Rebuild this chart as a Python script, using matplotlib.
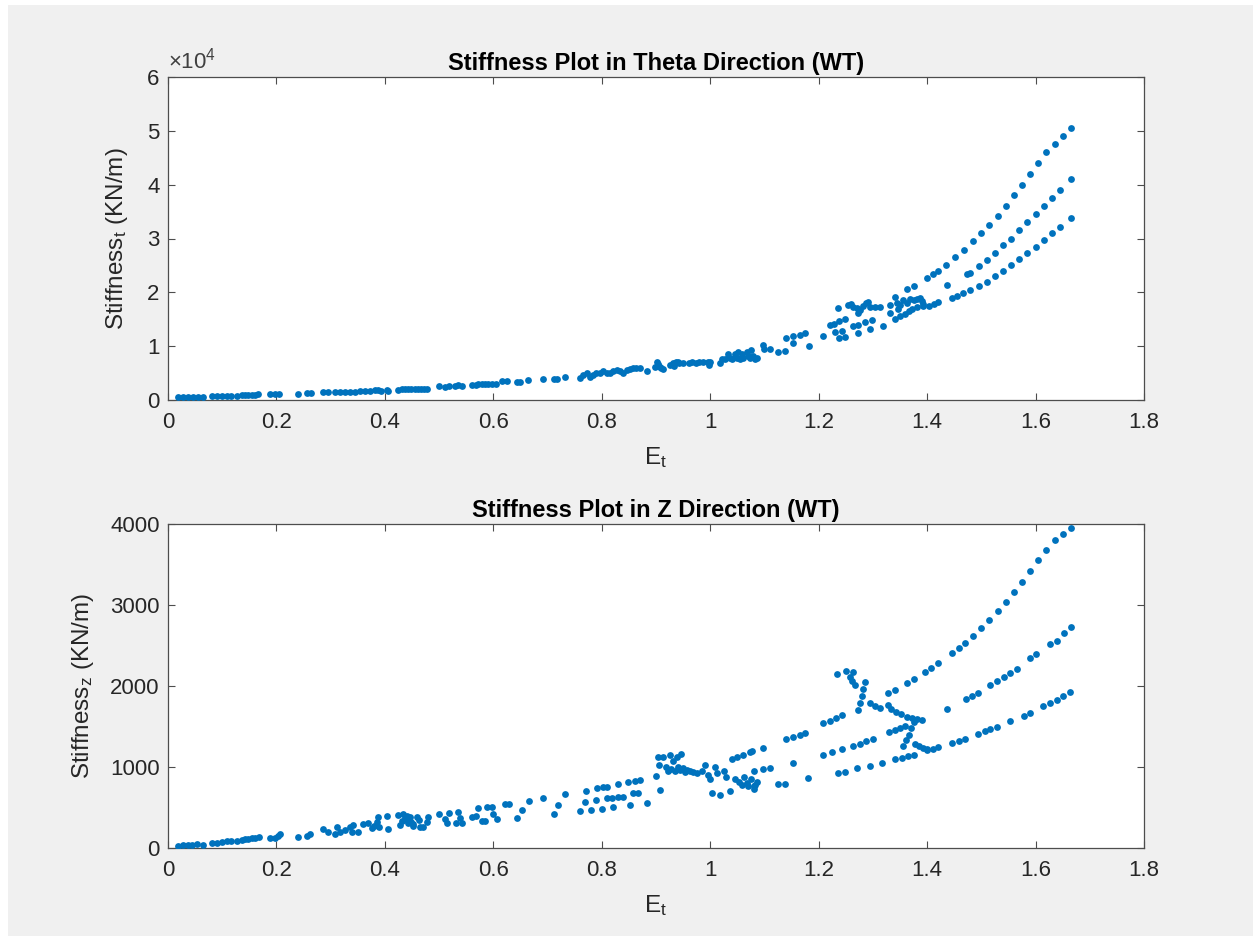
import matplotlib
matplotlib.use("Agg")
import matplotlib.pyplot as plt
from matplotlib.patches import Rectangle

plt.rcParams["font.family"] = ["Liberation Sans", "DejaVu Sans"]
plt.rcParams["mathtext.fontset"] = "custom"
plt.rcParams["mathtext.rm"] = "Liberation Sans"
plt.rcParams["mathtext.it"] = "Liberation Sans:italic"
plt.rcParams["mathtext.bf"] = "Liberation Sans:bold"

# ---- stiffness in theta direction (KN/m) vs E_t ----
e_theta = [
    0.019, 0.028, 0.037, 0.046, 0.055, 0.065, 0.081, 0.090, 0.099, 0.108, 0.117, 0.127,
    0.136, 0.142, 0.148, 0.154, 0.160, 0.166, 0.188, 0.197, 0.205, 0.240, 0.256, 0.263,
    0.285, 0.296, 0.308, 0.317, 0.326, 0.336, 0.345, 0.354, 0.363, 0.372, 0.381, 0.388,
    0.392, 0.403, 0.405, 0.425, 0.431, 0.437, 0.443, 0.449, 0.455, 0.461, 0.467, 0.473,
    0.477, 0.500, 0.511, 0.519, 0.530, 0.535, 0.542, 0.560, 0.568, 0.572, 0.579, 0.585,
    0.591, 0.597, 0.604, 0.616, 0.625, 0.643, 0.649, 0.664, 0.692, 0.711, 0.717, 0.732,
    0.760, 0.766, 0.772, 0.778, 0.784, 0.790, 0.797, 0.803, 0.809, 0.815, 0.821, 0.828,
    0.834, 0.840, 0.846, 0.852, 0.858, 0.864, 0.870, 0.883, 0.901, 0.904, 0.898, 0.904,
    0.907, 0.913, 0.910, 0.925, 0.931, 0.934, 0.937, 0.940, 0.943, 0.949, 0.961, 0.967,
    0.973, 0.979, 0.986, 0.995, 0.997, 0.999, 1.018, 1.021, 1.027, 1.033, 1.037, 1.040,
    1.046, 1.049, 1.052, 1.055, 1.058, 1.061, 1.067, 1.070, 1.073, 1.076, 1.079, 1.083,
    1.086, 1.097, 1.100, 1.110, 1.125, 1.138, 1.140, 1.153, 1.153, 1.165, 1.175, 1.183,
    1.208, 1.220, 1.229, 1.238, 1.249, 1.230, 1.243, 1.237, 1.249, 1.236, 1.254, 1.260,
    1.263, 1.270, 1.273, 1.277, 1.282, 1.287, 1.291, 1.295, 1.304, 1.313, 1.264, 1.273,
    1.286, 1.298, 1.273, 1.295, 1.319, 1.332, 1.332, 1.341, 1.344, 1.347, 1.350, 1.356,
    1.363, 1.369, 1.375, 1.381, 1.387, 1.390, 1.393, 1.341, 1.350, 1.360, 1.366, 1.372,
    1.381, 1.393, 1.403, 1.412, 1.421, 1.363, 1.375, 1.400, 1.411, 1.421, 1.446, 1.456,
    1.467, 1.473,
    1.435, 1.452, 1.468, 1.485, 1.500, 1.515, 1.530, 1.545, 1.560, 1.575, 1.590, 1.605,
    1.620, 1.635, 1.650, 1.665,
    1.436, 1.480, 1.495, 1.510, 1.525, 1.540, 1.555, 1.570, 1.585, 1.600, 1.615, 1.630,
    1.645, 1.665,
    1.480, 1.495, 1.510, 1.525, 1.540, 1.555, 1.570, 1.585, 1.600, 1.615, 1.630, 1.645,
    1.665,
]
k_theta = [
    500, 520, 550, 560, 600, 560, 700, 720, 740, 760, 780, 820,
    850, 870, 900, 930, 980, 1050, 1030, 1060, 1100, 1150, 1250, 1300,
    1500, 1450, 1400, 1450, 1480, 1550, 1560, 1620, 1650, 1720, 1780, 1850,
    1700, 1900, 1650, 1950, 2000, 2050, 2000, 2000, 2000, 2050, 2030, 2080,
    2100, 2600, 2500, 2650, 2600, 2700, 2650, 2750, 2800, 2900, 2900, 2900,
    3000, 3000, 2900, 3450, 3450, 3300, 3400, 3800, 3950, 3850, 3900, 4300,
    4000, 4600, 5000, 4300, 4600, 5100, 5000, 5300, 5000, 5100, 5300, 5600,
    5400, 5000, 5600, 5700, 5900, 5900, 5900, 5300, 7100, 6700, 6200, 6500,
    6200, 5700, 6000, 6500, 6800, 6300, 7000, 7000, 6900, 6900, 6900, 7000,
    6900, 7000, 7100, 7100, 6500, 7100, 6900, 7600, 7600, 8500, 7800, 7600,
    8500, 7800, 8900, 7600, 8500, 7800, 8900, 8200, 7800, 9300, 8200, 7600,
    7800, 10300, 9400, 9400, 8900, 9100, 11500, 10600, 11800, 12100, 12400, 10000,
    11900, 13900, 14200, 14600, 15000, 12600, 12800, 11500, 11700, 17100, 17600, 17800,
    17300, 17100, 16200, 16700, 17500, 18000, 18200, 17300, 17300, 17200, 13700, 14000,
    14500, 14900, 12500, 13200, 13700, 16200, 17700, 19100, 18100, 16900, 17700, 18500,
    18100, 18800, 18500, 18700, 18900, 18300, 17900, 15000, 15600, 16000, 16600, 16900,
    17300, 17500, 17500, 17800, 18200, 20600, 21200, 22700, 23400, 24000, 18900, 19300,
    19900, 23400,
    25000, 26500, 27800, 29500, 31000, 32500, 34200, 36000, 38000, 40000, 42000, 44000,
    46000, 47500, 49000, 50500,
    21400, 23500, 24800, 26000, 27300, 28700, 30000, 31500, 33000, 34600, 36000, 37500,
    39000, 41000,
    20500, 21200, 22000, 23000, 24000, 25000, 26200, 27300, 28500, 29800, 31000, 32200,
    33800,
]

# ---- stiffness in z direction (KN/m) vs E_t ----
e_z = [
    0.019, 0.028, 0.037, 0.044, 0.053, 0.065, 0.081, 0.090, 0.099, 0.108, 0.117, 0.127,
    0.136, 0.142, 0.148, 0.154, 0.160, 0.167, 0.188, 0.197, 0.203, 0.207, 0.240, 0.256,
    0.262, 0.285, 0.296, 0.308, 0.311, 0.317, 0.326, 0.336, 0.339, 0.342, 0.351, 0.360,
    0.369, 0.376, 0.379, 0.385, 0.388, 0.390, 0.403, 0.405,
    0.425, 0.428, 0.434, 0.437, 0.440, 0.443, 0.446, 0.449, 0.452, 0.459, 0.462, 0.465,
    0.471, 0.477, 0.480, 0.431, 0.452, 0.440,
    0.500, 0.511, 0.514, 0.519, 0.531, 0.535, 0.539, 0.542, 0.560, 0.568, 0.572, 0.579,
    0.585, 0.588, 0.597, 0.599, 0.606, 0.622, 0.629, 0.643, 0.652, 0.665, 0.692, 0.711,
    0.720, 0.732,
    0.760, 0.769, 0.771, 0.781, 0.789, 0.791, 0.800, 0.802, 0.809, 0.810, 0.818, 0.821,
    0.829, 0.830, 0.839, 0.849, 0.852, 0.857, 0.861, 0.867, 0.871, 0.883, 0.900, 0.904,
    0.907,
    0.905, 0.912, 0.918, 0.922, 0.925, 0.928, 0.932, 0.935, 0.938, 0.941, 0.944, 0.947,
    0.950, 0.953, 0.957, 0.962, 0.968, 0.975, 0.985, 0.990, 0.995, 1.000, 1.003, 1.008,
    1.013, 1.018, 1.025, 1.030, 1.036, 1.040, 1.045, 1.050, 1.053, 1.058, 1.060, 1.063,
    1.067, 1.070, 1.073, 1.076, 1.080, 1.083, 1.086,
    1.077, 1.097, 1.140, 1.153, 1.165, 1.175, 1.208, 1.221, 1.232, 1.243,
    1.328, 1.341, 1.362, 1.375, 1.396, 1.408, 1.421, 1.445, 1.458, 1.470, 1.485, 1.500,
    1.515, 1.530, 1.545, 1.560, 1.575, 1.590, 1.605, 1.620, 1.635, 1.650, 1.665,
    1.080, 1.097, 1.110, 1.153, 1.208, 1.225, 1.243, 1.264, 1.276, 1.288, 1.300, 1.330,
    1.340, 1.350, 1.360, 1.436, 1.472, 1.483, 1.494, 1.516, 1.528, 1.541, 1.553, 1.565,
    1.590, 1.600, 1.627, 1.640, 1.652, 1.665,
    1.080, 1.125, 1.138, 1.180, 1.236, 1.249, 1.270, 1.295, 1.317, 1.341, 1.353, 1.365,
    1.375, 1.400, 1.410, 1.420, 1.446, 1.458, 1.470, 1.494, 1.506, 1.516, 1.529, 1.553,
    1.578, 1.590, 1.614, 1.627, 1.639, 1.651, 1.664,
    1.233, 1.250, 1.264, 1.258, 1.261, 1.267, 1.285, 1.282, 1.279, 1.276, 1.273, 1.295,
    1.304, 1.313, 1.328, 1.334, 1.343, 1.352, 1.362, 1.372, 1.382, 1.390, 1.375, 1.371,
    1.366, 1.361, 1.356, 1.378, 1.385, 1.392, 1.400,
]
k_z = [
    25, 33, 37, 41, 49, 41, 65, 65, 78, 86, 82, 90,
    99, 107, 115, 119, 128, 136, 128, 119, 148, 169, 140, 148,
    173, 234, 201, 173, 255, 201, 222, 263, 201, 284, 201, 296,
    305, 243, 272, 325, 387, 263, 395, 231,
    407, 284, 420, 366, 346, 305, 387, 325, 272, 387, 346, 263,
    263, 325, 379, 330, 300, 400,
    420, 354, 305, 436, 305, 449, 366, 305, 387, 395, 490, 337,
    337, 502, 510, 416, 354, 543, 543, 374, 469, 584, 613, 420,
    527, 667,
    457, 572, 708, 469, 593, 737, 477, 749, 613, 757, 613, 502,
    626, 790, 634, 819, 531, 675, 831, 675, 840, 551, 889, 1127,
    716,
    1030, 1120, 1000, 950, 1150, 980, 1080, 950, 1120, 1000, 960, 1160,
    990, 940, 960, 950, 940, 930, 950, 1020, 900, 850, 680, 1000,
    930, 650, 950, 880, 700, 1100, 850, 1120, 820, 780, 1150, 880,
    800, 760, 1180, 850, 730, 780, 820,
    1200, 1240, 1345, 1370, 1395, 1420, 1540, 1570, 1600, 1640,
    1910, 1951, 2034, 2083, 2177, 2226, 2288, 2404, 2465, 2534, 2620, 2720,
    2820, 2930, 3040, 3160, 3290, 3420, 3550, 3680, 3800, 3880, 3950,
    950, 975, 988, 1049, 1148, 1185, 1222, 1259, 1290, 1320, 1346, 1432,
    1460, 1485, 1506, 1716, 1840, 1877, 1914, 2012, 2060, 2110, 2160, 2210,
    2346, 2395, 2518, 2556, 2650, 2730,
    765, 790, 790, 864, 926, 938, 988, 1012, 1049, 1099, 1115, 1132,
    1148, 1210, 1228, 1247, 1296, 1320, 1346, 1407, 1440, 1465, 1494, 1568,
    1630, 1667, 1753, 1790, 1830, 1880, 1926,
    2148, 2185, 2173, 2111, 2060, 2012, 2049, 1960, 1880, 1790, 1704, 1790,
    1750, 1728, 1765, 1710, 1680, 1650, 1620, 1600, 1590, 1580, 1556, 1480,
    1400, 1330, 1259, 1284, 1260, 1240, 1222,
]

x_ticks = [0, 0.2, 0.4, 0.6, 0.8, 1.0, 1.2, 1.4, 1.6, 1.8]
x_tick_labels = ["0", "0.2", "0.4", "0.6", "0.8", "1", "1.2", "1.4", "1.6", "1.8"]
theta_ticks = [0, 10000, 20000, 30000, 40000, 50000, 60000]
theta_tick_labels = ["0", "1", "2", "3", "4", "5", "6"]
z_ticks = [0, 1000, 2000, 3000, 4000]
z_tick_labels = ["0", "1000", "2000", "3000", "4000"]

W, H = 1253, 936
fig = plt.figure(figsize=(W / 100, H / 100), dpi=100)
fig.patch.set_facecolor("white")
fig.add_artist(Rectangle((8 / W, 0), 1 - 8 / W, 1 - 5 / H, transform=fig.transFigure,
                         facecolor="#f0f0f0", edgecolor="none", zorder=-10))

dot_color = "#0072BD"
axis_color = "#262626"
tick_size = 16
label_size = 17.5
title_size = 17


def style_axes(ax):
    ax.set_facecolor("white")
    for sp in ax.spines.values():
        sp.set_color("#4d4d4d")
        sp.set_linewidth(0.9)
    ax.tick_params(direction="in", length=5, width=0.8, color="#4d4d4d",
                   labelsize=tick_size, labelcolor=axis_color, top=True, right=True, pad=6)
    ax.tick_params(axis="x", pad=9)
    ax.set_xlim(0, 1.8)
    ax.set_xticks(x_ticks)
    ax.set_xticklabels(x_tick_labels)


ax1 = fig.add_axes([168 / W, 1 - 400 / H, 976 / W, 323 / H])
style_axes(ax1)
ax1.scatter(e_theta, k_theta, s=24, color=dot_color, linewidths=0, zorder=3)
ax1.set_ylim(0, 60000)
ax1.set_yticks(theta_ticks)
ax1.set_yticklabels(theta_tick_labels)
ax1.text(0.0, 1.01, r"$\times10^{4}$", transform=ax1.transAxes, fontsize=tick_size,
         color="#404040", ha="left", va="bottom")
ax1.set_title("Stiffness Plot in Theta Direction (WT)", fontsize=title_size,
              fontweight="bold", color="black", pad=5)
ax1.set_xlabel(r"E$_\mathrm{t}$", fontsize=label_size, color=axis_color, labelpad=8)
ax1.set_ylabel(r"Stiffness$_\mathrm{t}$ (KN/m)", fontsize=label_size, color=axis_color,
               labelpad=12)

ax2 = fig.add_axes([168 / W, 1 - 848 / H, 976 / W, 324 / H])
style_axes(ax2)
ax2.scatter(e_z, k_z, s=24, color=dot_color, linewidths=0, zorder=3)
ax2.set_ylim(0, 4000)
ax2.set_yticks(z_ticks)
ax2.set_yticklabels(z_tick_labels)
ax2.set_title("Stiffness Plot in Z Direction (WT)", fontsize=title_size,
              fontweight="bold", color="black", pad=5)
ax2.set_xlabel(r"E$_\mathrm{t}$", fontsize=label_size, color=axis_color, labelpad=8)
ax2.set_ylabel(r"Stiffness$_\mathrm{z}$ (KN/m)", fontsize=label_size, color=axis_color,
               labelpad=10)

fig.savefig("out.png", dpi=100, facecolor=fig.get_facecolor())
